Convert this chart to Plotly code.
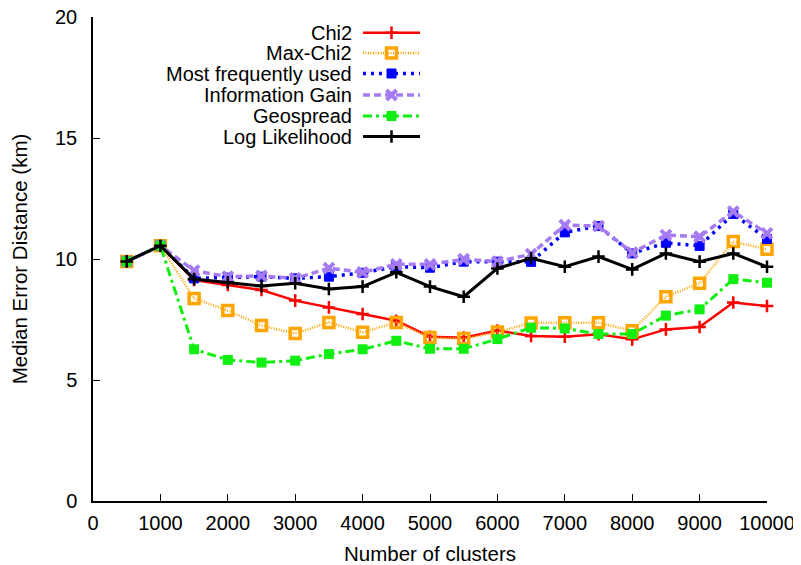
import plotly.graph_objects as go

clusters = [500, 1000, 1500, 2000, 2500, 3000, 3500, 4000, 4500, 5000,
            5500, 6000, 6500, 7000, 7500, 8000, 8500, 9000, 9500, 10000]

chi2 = [9.9, 10.55, 9.13, 8.93, 8.72, 8.28, 8.0, 7.73, 7.45, 6.79,
        6.75, 7.04, 6.82, 6.79, 6.89, 6.68, 7.09, 7.19, 8.2, 8.06]
max_chi2 = [9.9, 10.55, 8.37, 7.87, 7.25, 6.92, 7.38, 6.97, 7.38, 6.76,
            6.71, 6.98, 7.36, 7.37, 7.37, 7.04, 8.44, 9.0, 10.72, 10.4]
most_freq = [9.9, 10.55, 9.2, 9.23, 9.27, 9.2, 9.27, 9.43, 9.68, 9.64,
             9.89, 9.89, 9.88, 11.1, 11.36, 10.23, 10.67, 10.54, 11.86, 10.83]
info_gain = [9.9, 10.55, 9.52, 9.27, 9.3, 9.2, 9.62, 9.45, 9.78, 9.78,
             9.99, 9.89, 10.2, 11.4, 11.36, 10.26, 10.99, 10.92, 11.96, 11.06]
geospread = [9.9, 10.55, 6.27, 5.83, 5.72, 5.8, 6.07, 6.27, 6.62, 6.29,
             6.29, 6.69, 7.16, 7.13, 6.9, 6.9, 7.66, 7.92, 9.17, 9.02]
log_lik = [9.9, 10.55, 9.17, 9.04, 8.88, 9.0, 8.76, 8.86, 9.45, 8.86,
           8.44, 9.61, 10.03, 9.68, 10.1, 9.57, 10.23, 9.89, 10.23, 9.68]

x_ticks = [0, 1000, 2000, 3000, 4000, 5000, 6000, 7000, 8000, 9000, 10000]
y_ticks = [0, 5, 10, 15, 20]

FONT = "Liberation Sans, Arial, sans-serif"

series = [
    ("Chi2", chi2, dict(color="#FF0000", width=2.5, dash="solid"),
     dict(symbol="cross-thin-open", size=9, color="#FF0000", line=dict(color="#FF0000", width=2.5))),
    ("Max-Chi2", max_chi2, dict(color="#FFA500", width=2.5, dash="1px,1.5px"),
     dict(symbol="square-open", size=10, color="#FFA500", line=dict(color="#FFA500", width=3.5))),
    ("Most frequently used", most_freq, dict(color="#0000FF", width=3.5, dash="3px,5px"),
     dict(symbol="square", size=9, color="#0000FF", line=dict(color="#0000FF", width=1))),
    ("Information Gain", info_gain, dict(color="#A57BF2", width=3.5, dash="7px,4px"),
     dict(symbol="x-thin-open", size=10, color="#A57BF2", line=dict(color="#A57BF2", width=4))),
    ("Geospread", geospread, dict(color="#11EE11", width=3, dash="9px,4px,3px,4px"),
     dict(symbol="square", size=10, color="#11EE11", line=dict(color="#11EE11", width=0))),
    ("Log Likelihood", log_lik, dict(color="#000000", width=3, dash="solid"),
     dict(symbol="cross-thin-open", size=9, color="#000000", line=dict(color="#000000", width=2.5))),
]

fig = go.Figure()
for name, vals, ln, mk in series:
    fig.add_trace(go.Scatter(x=clusters, y=vals, mode="lines+markers", name=name,
                             line=ln, marker=mk, showlegend=False, cliponaxis=False))

# custom legend (text left, sample right) on a pixel-space overlay axis
# (plot area spans page pixels x 93..767, y 17..501)
leg_rows = [32.7, 53, 73.5, 95, 116, 136.5]
for (name, vals, ln, mk), ry in zip(series, leg_rows):
    fig.add_trace(go.Scatter(x=[363, 420], y=[ry, ry], mode="lines", line=ln,
                             xaxis="x2", yaxis="y2", showlegend=False, hoverinfo="skip"))
    fig.add_trace(go.Scatter(x=[391.5], y=[ry], mode="markers", marker=mk,
                             xaxis="x2", yaxis="y2", showlegend=False, hoverinfo="skip"))
    fig.add_annotation(x=353, y=ry, xref="x2", yref="y2", text=name, showarrow=False,
                       xanchor="right", yanchor="middle", borderpad=0,
                       font=dict(family=FONT, size=20, color="#000000"))

fig.update_layout(
    width=801, height=565,
    margin=dict(l=85, r=42, t=9, b=72),
    paper_bgcolor="white", plot_bgcolor="white",
    font=dict(family=FONT, size=20, color="#000000"),
    xaxis=dict(range=[0, 10000], tickvals=x_ticks, ticktext=[str(v) for v in x_ticks],
               ticks="inside", ticklen=7, tickcolor="#000", tickwidth=1,
               showline=True, linecolor="#000", linewidth=1.5, showgrid=False, zeroline=False,
               automargin=False, ticklabelstandoff=3, ticklabeloverflow="allow",
               title=dict(text="Number of clusters", font=dict(size=20.5), standoff=14)),
    yaxis=dict(range=[0, 20], tickvals=y_ticks, ticks="inside", ticklen=7, tickcolor="#000",
               tickwidth=1, showline=True, linecolor="#000", linewidth=1.5,
               showgrid=False, zeroline=False, automargin=False, ticklabelstandoff=10,
               ticklabeloverflow="allow",
               title=dict(text="Median Error Distance (km)", font=dict(size=20.5), standoff=22)),
    xaxis2=dict(range=[93, 767], overlaying="x", visible=False, fixedrange=True),
    yaxis2=dict(range=[501, 17], overlaying="y", visible=False, fixedrange=True),
)

fig.write_html("out.html")
